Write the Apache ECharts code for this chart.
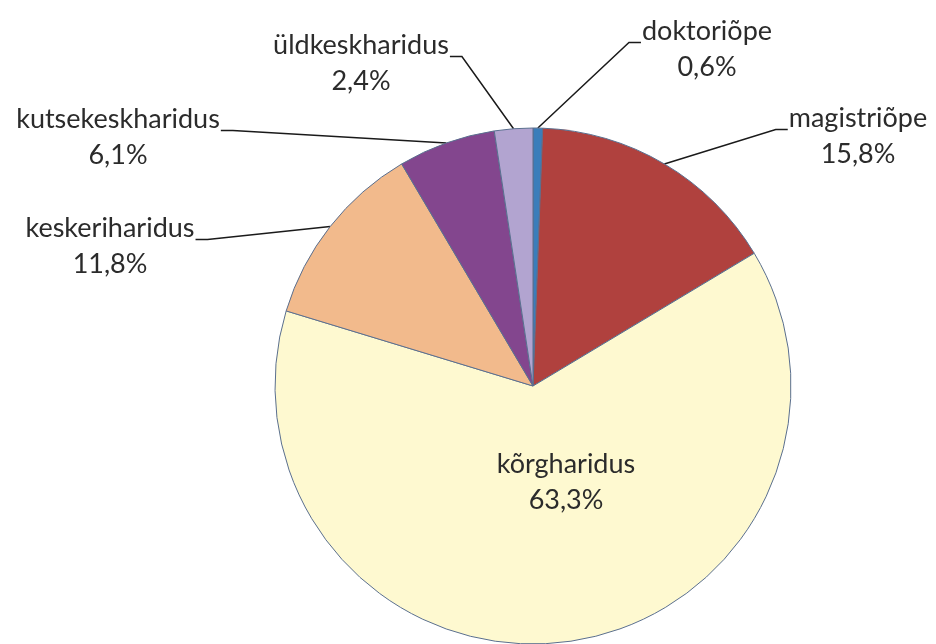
<!DOCTYPE html>
<html>
<head>
<meta charset="utf-8">
<script src="https://cdn.jsdelivr.net/npm/echarts@6/dist/echarts.min.js"></script>
<style>
  html, body { margin: 0; padding: 0; background: #fff; }
  #chart { width: 936px; height: 644px; }
</style>
</head>
<body>
<div id="chart"></div>
<script>
// andmed (clockwise from top)
var names = ['doktoriõpe', 'magistriõpe', 'kõrgharidus', 'keskeriharidus', 'kutsekeskharidus', 'üldkeskharidus'];
var shares = [0.6, 15.8, 63.3, 11.8, 6.1, 2.4];
var colors = ['#3b7dba', '#b0413e', '#fef9d0', '#f2ba8c', '#83468e', '#b2a4d0'];

// label block placement: [centerX, top, side of leader line]
var labelPos = [
  [707, 13, 'r'],
  [858, 100, 'r'],
  [566, 446, null],
  [110, 210, 'l'],
  [118, 101, 'l'],
  [361, 27, 'l']
];
var LH = 36;

var chart = echarts.init(document.getElementById('chart'));

var data = names.map(function (n, i) {
  var d = { name: n, value: shares[i], itemStyle: { color: colors[i] } };
  if (i === 2) {
    d.label = { position: 'inside' };
    d.labelLine = { show: false };
  }
  return d;
});

var option = {
  animation: false,
  series: [{
    type: 'pie',
    center: [533, 386],
    radius: 258,
    startAngle: 90,
    clockwise: true,
    itemStyle: { borderColor: '#5a6f8f', borderWidth: 1 },
    label: {
      show: true,
      fontFamily: 'Lato',
      fontSize: 27,
      lineHeight: LH,
      color: '#2b2b2b',
      align: 'center',
      formatter: function (p) {
        return p.name + '\n' + p.value.toFixed(1).replace('.', ',') + '%';
      }
    },
    labelLine: {
      show: true,
      lineStyle: { color: '#1a1a1a', width: 1.5 }
    },
    labelLayout: function (p) {
      var lp = labelPos[p.dataIndex];
      var out = { x: lp[0], y: lp[1], align: 'center', verticalAlign: 'top' };
      if (lp[2] && p.labelLinePoints) {
        var w = p.labelRect.width;
        var sy = lp[1] + LH * 0.82;
        var ex, bx;
        if (lp[2] === 'r') {
          ex = lp[0] - w / 2 - 1;
          bx = ex - 12;
        } else {
          ex = lp[0] + w / 2 + 1;
          bx = ex + 12;
        }
        out.labelLinePoints = [p.labelLinePoints[0], [bx, sy], [ex, sy]];
      }
      return out;
    },
    data: data
  }]
};

chart.setOption(option);
</script>
</body>
</html>
